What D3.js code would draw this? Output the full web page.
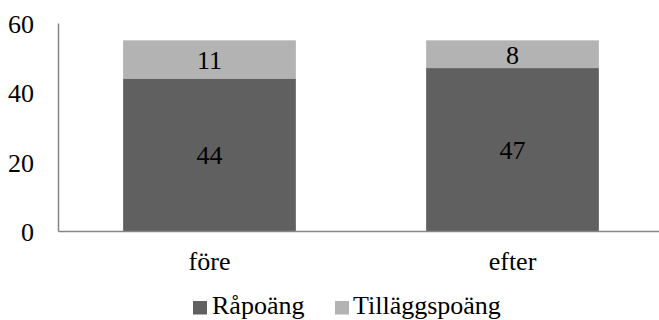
<!DOCTYPE html>
<html><head><meta charset="utf-8">
<script src="https://cdn.jsdelivr.net/npm/d3@7"></script>
<style>body{margin:0;background:#fff}svg{display:block}</style>
</head><body>
<svg id="chart" width="659" height="320"></svg>
<script>
const categories = ["före", "efter"];
const seriesNames = ["Råpoäng", "Tilläggspoäng"];
const rapoang = [44, 47];
const tillagg = [11, 8];
const yTicks = [0, 20, 40, 60];
const colors = ["#606060", "#b3b3b3"];

const svg = d3.select("#chart");
const font = "'Liberation Serif','Times New Roman',serif";
const fs = 26;
const x0 = 58, x1 = 664, yTop = 23, yBot = 231;

const x = d3.scaleBand().domain(categories).range([x0, x1]).paddingInner(0.43).paddingOuter(0.215);
const y = d3.scaleLinear().domain([0, 60]).range([yBot, yTop]);

const data = categories.map((c, i) => ({cat: c, [seriesNames[0]]: rapoang[i], [seriesNames[1]]: tillagg[i]}));
const stacked = d3.stack().keys(seriesNames)(data);

stacked.forEach((layer, li) => {
  const g = svg.append("g");
  g.selectAll("rect").data(layer).join("rect")
    .attr("x", d => x(d.data.cat))
    .attr("width", x.bandwidth())
    .attr("y", d => y(d[1]))
    .attr("height", d => y(d[0]) - y(d[1]))
    .attr("fill", colors[li]);
  g.selectAll("text").data(layer).join("text")
    .attr("x", d => x(d.data.cat) + x.bandwidth() / 2)
    .attr("y", d => (y(d[0]) + y(d[1])) / 2)
    .attr("dy", "0.36em")
    .attr("text-anchor", "middle")
    .style("font-family", font).style("font-size", fs + "px").attr("fill", "#000")
    .text(d => d[1] - d[0]);
});

// y axis
const yAxis = svg.append("g").attr("transform", `translate(${x0},0)`)
  .call(d3.axisLeft(y).tickValues(yTicks).tickSize(0).tickPadding(24));
yAxis.select(".domain").attr("stroke", "#868686").attr("stroke-width", 1.5);
yAxis.selectAll("text").style("font-family", font).style("font-size", fs + "px").attr("fill", "#000").attr("dy", "0.36em");

// x axis
const xAxis = svg.append("g").attr("transform", `translate(0,${yBot})`)
  .call(d3.axisBottom(x).tickSize(0).tickPadding(21));
xAxis.select(".domain").attr("stroke", "#868686").attr("stroke-width", 1.5);
xAxis.selectAll("text").style("font-family", font).style("font-size", fs + "px").attr("fill", "#000");

// legend
const legendItems = [{name: seriesNames[0], x: 193, tx: 212}, {name: seriesNames[1], x: 335, tx: 353}];
const lg = svg.append("g");
legendItems.forEach((it, i) => {
  lg.append("rect").attr("x", it.x).attr("y", 301).attr("width", 14).attr("height", 13.5).attr("fill", colors[i]);
  lg.append("text").attr("x", it.tx).attr("y", 314)
    .style("font-family", font).style("font-size", fs + "px").attr("fill", "#000").text(it.name);
});
</script>
</body></html>
